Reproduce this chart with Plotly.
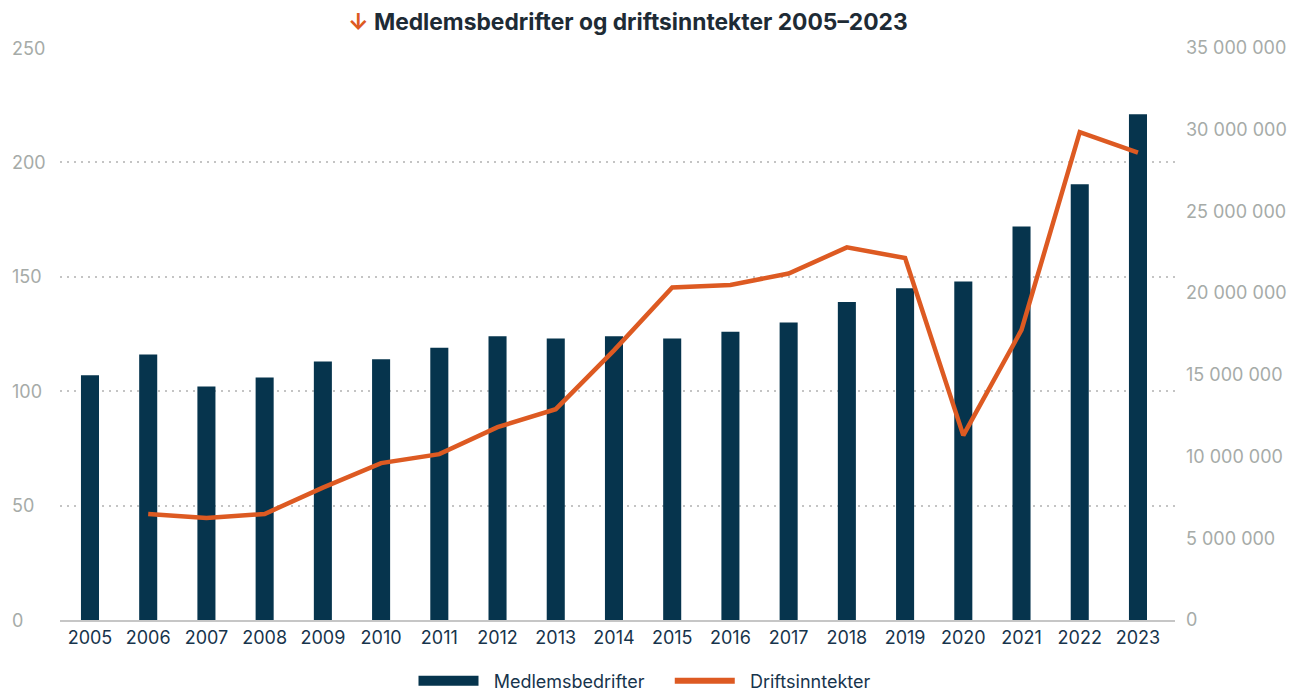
import plotly.graph_objects as go

years = [str(y) for y in range(2005, 2024)]
medlemsbedrifter = [107, 116, 102, 106, 113, 114, 119, 124, 123, 124, 123, 126, 130, 139, 145, 148, 172, 190.5, 221]
driftsinntekter_years = [str(y) for y in range(2006, 2024)]
driftsinntekter = [6490000, 6240000, 6490000, 8100000, 9600000, 10150000, 11800000, 12900000,
                   16500000, 20350000, 20500000, 21200000, 22800000, 22150000, 11300000,
                   17750000, 29850000, 28600000]

left_ticks = [0, 50, 100, 150, 200, 250]
right_ticks = [0, 5000000, 10000000, 15000000, 20000000, 25000000, 30000000, 35000000]
right_ticktext = ["0", "5 000 000", "10 000 000", "15 000 000", "20 000 000",
                  "25 000 000", "30 000 000", "35 000 000"]

NAVY = "#06344d"
ORANGE = "#dd5a22"
FONT = "Inter"
TICKGRAY = "#a6aba8"
NB = "\u00a0"

fig = go.Figure()
fig.add_trace(go.Bar(x=years, y=medlemsbedrifter, name="Medlemsbedrifter",
                     marker=dict(color=NAVY, line=dict(width=0)), width=0.31,
                     showlegend=False))
fig.add_trace(go.Scatter(x=driftsinntekter_years, y=driftsinntekter, name="Driftsinntekter",
                         mode="lines", line=dict(color=ORANGE, width=4.5), yaxis="y2",
                         showlegend=False))
# legend stand-ins (no data drawn)
fig.add_trace(go.Scatter(x=[None], y=[None], mode="lines",
                         name=NB * 2 + "Medlemsbedrifter" + NB * 4,
                         line=dict(color=NAVY, width=20)))
fig.add_trace(go.Scatter(x=[None], y=[None], mode="lines",
                         name=NB * 2 + "Driftsinntekter",
                         line=dict(color=ORANGE, width=6), yaxis="y2"))

annotations = []
for t in left_ticks:
    annotations.append(dict(x=-0.045, xref="paper", xanchor="left", y=t, yref="y",
                            yanchor="middle", text=str(t), showarrow=False,
                            font=dict(family=FONT, size=18, color=TICKGRAY)))

fig.update_layout(
    width=1289, height=691,
    margin=dict(l=60, r=114, t=48, b=71, autoexpand=False),
    paper_bgcolor="white", plot_bgcolor="white",
    font=dict(family=FONT),
    title=dict(text="<span style='color:%s'>↓</span> Medlemsbedrifter og driftsinntekter 2005–2023" % ORANGE,
               x=0.487, xanchor="center", y=0.968, yanchor="middle",
               font=dict(family=FONT, size=22.8, color="#1e2b35", weight="bold")),
    xaxis=dict(type="category", range=[-0.515, 18.636], showgrid=False,
               showline=True, linecolor="#c6c6c6", linewidth=2, ticks="",
               tickfont=dict(family=FONT, size=18, color="#17344c")),
    yaxis=dict(range=[0, 250], tickvals=left_ticks, showticklabels=False,
               showgrid=True, gridcolor="#c4c4c4", griddash="2px,5px", gridwidth=2,
               zeroline=False),
    yaxis2=dict(range=[0, 35000000], overlaying="y", side="right", tickvals=right_ticks,
                ticktext=right_ticktext, showgrid=False, zeroline=False, ticks="",
                ticklabelstandoff=10,
                tickfont=dict(family=FONT, size=18, color=TICKGRAY)),
    legend=dict(orientation="h", x=0.5, xref="container", xanchor="center",
                y=0.0145, yref="container", yanchor="middle",
                itemwidth=60, font=dict(family=FONT, size=18, color="#17344c")),
    annotations=annotations,
)

fig.write_html("out.html")
